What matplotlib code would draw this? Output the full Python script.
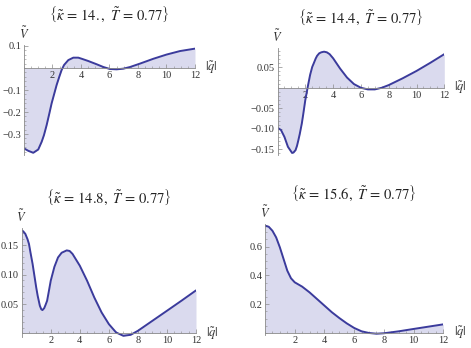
import matplotlib
matplotlib.use("Agg")
import matplotlib.pyplot as plt
from matplotlib.ticker import MultipleLocator

plt.rcParams['font.family'] = ['Liberation Serif', 'DejaVu Serif']
plt.rcParams['mathtext.fontset'] = 'stix'

# ---- data ----
kappas = ['14.', '14.4', '14.8', '15.6']
T_val = '0.77'

q1 = [0, 0.3, 0.65, 1.0, 1.24, 1.4, 1.59, 1.78, 1.94, 2.13, 2.29, 2.48, 2.64, 2.81, 3.11,
      3.46, 3.81, 4.05, 4.5, 5.1, 5.57, 6.03, 6.5, 6.97, 7.44, 8.14, 9.08, 10.0, 10.95, 12.0]
v1 = [-0.365, -0.376, -0.385, -0.37, -0.335, -0.305, -0.259, -0.206, -0.16, -0.115, -0.077,
      -0.039, -0.009, 0.0136, 0.036, 0.047, 0.047, 0.042, 0.032, 0.017, 0.0045, -0.0045,
      -0.006, -0.003, 0.0045, 0.02, 0.042, 0.061, 0.077, 0.088]

q2 = [0, 0.25, 0.5, 0.75, 1.05, 1.15, 1.3, 1.4, 1.5, 1.6, 1.75, 1.85, 2.0, 2.1, 2.2, 2.35,
      2.5, 2.6, 2.75, 2.85, 3.0, 3.15, 3.35, 3.55, 3.75, 4.0, 4.5, 5.0, 5.5, 6.0, 6.5, 7.0,
      7.5, 8.0, 9.0, 10.0, 11.0, 12.0]
v2 = [-0.0976, -0.103, -0.12, -0.144, -0.159, -0.158, -0.152, -0.142, -0.128, -0.113,
      -0.087, -0.065, -0.03, -0.012, 0.0065, 0.032, 0.051, 0.059, 0.0715, 0.078, 0.084,
      0.0865, 0.088, 0.0865, 0.082, 0.072, 0.047, 0.025, 0.009, 0.0, -0.004, -0.004, 0.0,
      0.0065, 0.023, 0.041, 0.061, 0.082]

q3 = [0, 0.1, 0.25, 0.4, 0.5, 0.6, 0.75, 0.9, 1.0, 1.1, 1.25, 1.35, 1.43, 1.55, 1.65, 1.75,
      1.85, 2.0, 2.25, 2.5, 2.75, 3.1, 3.3, 3.5, 4.0, 4.5, 5.0, 5.5, 6.0, 6.5, 7.0, 7.5, 8.0,
      9.0, 10.0, 11.0, 12.0]
v3 = [0.1746, 0.1735, 0.169, 0.16, 0.152, 0.138, 0.118, 0.094, 0.078, 0.064, 0.047, 0.041,
      0.0397, 0.043, 0.049, 0.0556, 0.069, 0.0896, 0.113, 0.129, 0.137, 0.141, 0.14, 0.135,
      0.115, 0.0896, 0.061, 0.0357, 0.0159, 0.0017, -0.004, -0.0023, 0.0045, 0.0215, 0.0385,
      0.0556, 0.0731]

q4 = [0, 0.25, 0.5, 0.75, 1.0, 1.25, 1.5, 1.75, 2.0, 2.5, 3.0, 3.5, 4.0, 4.5, 5.0, 5.5, 6.0,
      6.5, 7.0, 7.5, 8.0, 9.0, 10.0, 11.0, 12.0]
v4 = [0.745, 0.738, 0.71, 0.664, 0.595, 0.514, 0.433, 0.38, 0.352, 0.322, 0.282, 0.236, 0.19,
      0.144, 0.104, 0.067, 0.035, 0.0116, 0.0, -0.005, -0.002, 0.0116, 0.028, 0.044, 0.06]

xticks = [2, 4, 6, 8, 10, 12]
yticks1 = [-0.3, -0.2, -0.1, 0.1]
yticks2 = [-0.15, -0.10, -0.05, 0.05]
yticks3 = [0.05, 0.10, 0.15]
yticks4 = [0.2, 0.4, 0.6]
ylabels1 = ['\u22120.3', '\u22120.2', '\u22120.1', '0.1']
ylabels2 = ['\u22120.15', '\u22120.10', '\u22120.05', '0.05']
ylabels3 = ['0.05', '0.10', '0.15']
ylabels4 = ['0.2', '0.4', '0.6']

W, H = 471, 348
fig = plt.figure(figsize=(W / 100, H / 100), dpi=100)

panels = [
    ((24, 195, 45, 155), (-0.395, 0.1045), q1, v1, yticks1, ylabels1, 0.02, kappas[0]),
    ((277.5, 444.3, 48, 155), (-0.164, 0.097), q2, v2, yticks2, ylabels2, 0.01, kappas[1]),
    ((21.7, 196, 228, 337), (-0.006, 0.179), q3, v3, yticks3, ylabels3, 0.01, kappas[2]),
    ((265, 443.3, 224, 335), (-0.014, 0.757), q4, v4, yticks4, ylabels4, 0.05, kappas[3]),
]

line_c = '#3b3b9c'
fill_c = '#dadaee'
axis_c = '#8a8a8a'
lab_c = '#333333'

for (l, r, t, b), ylim, q, v, yt, yl, mstep, kap in panels:
    ax = fig.add_axes([l / W, 1 - b / H, (r - l) / W, (b - t) / H])
    ax.set_xlim(0, 12)
    ax.set_ylim(*ylim)
    ax.fill_between(q, v, 0, color=fill_c, lw=0)
    ax.plot(q, v, color=line_c, lw=1.4, solid_capstyle='round', solid_joinstyle='round')
    for s in ['top', 'right']:
        ax.spines[s].set_visible(False)
    ax.spines['bottom'].set_position(('data', 0))
    ax.spines['left'].set_position(('data', 0))
    for s in ['bottom', 'left']:
        ax.spines[s].set_color(axis_c)
        ax.spines[s].set_linewidth(0.6)
    ax.set_xticks(xticks)
    ax.set_xticklabels([str(x) for x in xticks])
    ax.set_yticks(yt)
    ax.set_yticklabels(yl)
    ax.xaxis.set_minor_locator(MultipleLocator(0.5))
    ax.yaxis.set_minor_locator(MultipleLocator(mstep))
    ax.tick_params(which='major', direction='in', length=3, width=0.5, color=axis_c,
                   labelsize=7.5, labelcolor=lab_c, pad=2)
    ax.tick_params(which='minor', direction='in', length=1.6, width=0.4, color=axis_c)
    ax.patch.set_alpha(0)
    ax.text(12.7, 0, r'$|\tilde{q}|$', fontsize=9, ha='left', va='center',
            color=lab_c, clip_on=False)
    ax.annotate(r'$\tilde{V}$', xy=(0, 1), xycoords='axes fraction', xytext=(0, 2.5),
                textcoords='offset points', ha='center', va='bottom', fontsize=9,
                color=lab_c)
    ax.annotate(r'$\left\{\tilde{\kappa}\,=\,\mathit{' + kap + r'},\ \tilde{T}\,=\,\mathit{'
                + T_val + r'}\right\}$',
                xy=(0.5, 1), xycoords='axes fraction', xytext=(0, 15),
                textcoords='offset points', ha='center', va='bottom', fontsize=10.5,
                color='#222222')

fig.savefig('out.png', dpi=100)
